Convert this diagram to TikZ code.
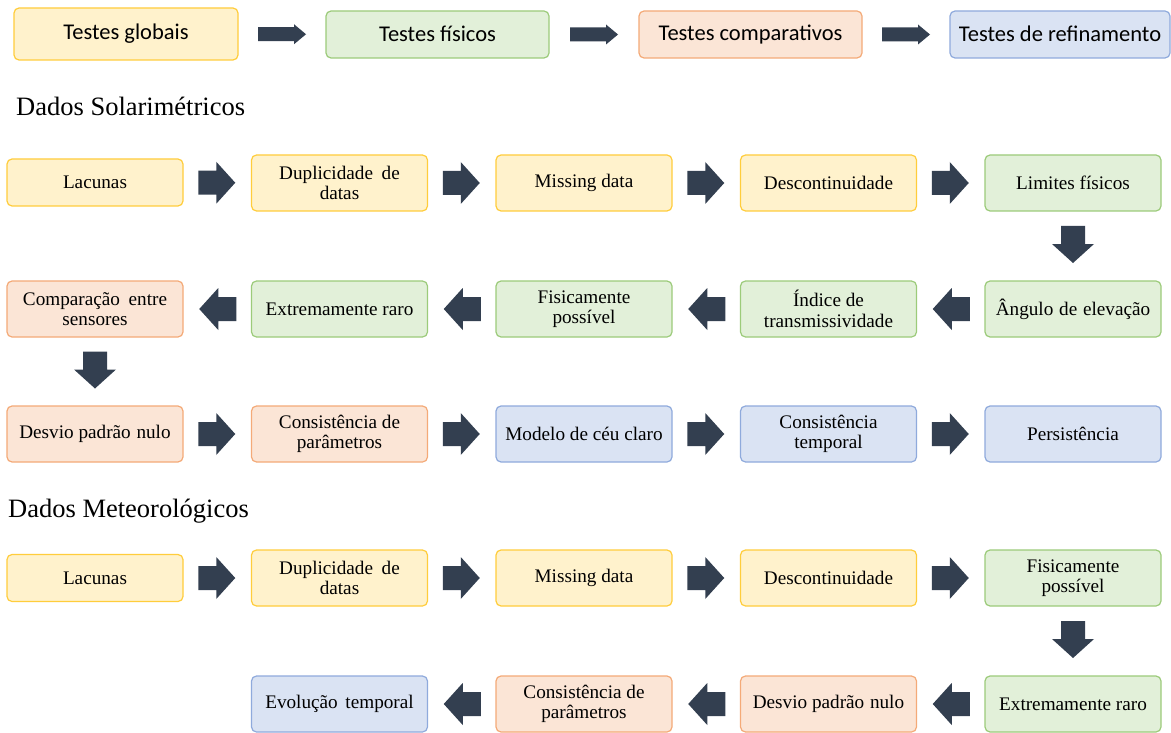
\documentclass[tikz,border=0pt]{standalone}
\usepackage{fontspec}
\setmainfont{Liberation Serif}
\newfontfamily\tnr{Liberation Serif}
\newfontfamily\calib{Carlito}
\usetikzlibrary{calc}
\definecolor{yfill}{HTML}{FFF2CC}
\definecolor{yline}{HTML}{FFCD3C}
\definecolor{gfill}{HTML}{E2F0D9}
\definecolor{gline}{HTML}{9CCB7A}
\definecolor{ofill}{HTML}{FBE5D6}
\definecolor{oline}{HTML}{F4AA78}
\definecolor{bfill}{HTML}{DAE3F3}
\definecolor{bline}{HTML}{8FAADC}
\definecolor{arrowc}{HTML}{333F50}
\newcommand\rarr[2]{%
  \coordinate (m) at ($(#1.east)!0.5!(#2.west)+(-1,0)$);
  \fill[arrowc] ($(m)+(-18,-12)$) -- ($(m)+(0,-12)$) -- ($(m)+(0,-21)$) -- ($(m)+(19,0)$)
    -- ($(m)+(0,21)$) -- ($(m)+(0,12)$) -- ($(m)+(-18,12)$) -- cycle;}
\newcommand\larr[2]{%
  \coordinate (m) at ($(#1.west)!0.5!(#2.east)+(1,0)$);
  \fill[arrowc] ($(m)+(18,-12)$) -- ($(m)+(0,-12)$) -- ($(m)+(0,-21)$) -- ($(m)+(-19,0)$)
    -- ($(m)+(0,21)$) -- ($(m)+(0,12)$) -- ($(m)+(18,12)$) -- cycle;}
\newcommand\darr[2]{%
  \coordinate (m) at ($(#1.south)!0.5!(#2.north)+(0,-2)$);
  \fill[arrowc] ($(m)+(-12,-18)$) -- ($(m)+(-12,0)$) -- ($(m)+(-21,0)$) -- ($(m)+(0,19)$)
    -- ($(m)+(21,0)$) -- ($(m)+(12,0)$) -- ($(m)+(12,-18)$) -- cycle;}
\newcommand\tarr[2]{%
  \coordinate (m) at ($(#1.east)!0.5!(#2.west)$);
  \fill[arrowc] ($(m)+(-24,-7)$) -- ($(m)+(12,-7)$) -- ($(m)+(12,-10)$) -- ($(m)+(24,0)$)
    -- ($(m)+(12,10)$) -- ($(m)+(12,7)$) -- ($(m)+(-24,7)$) -- cycle;}
\begin{document}
\begin{tikzpicture}[x=1pt,y=-1pt,
  box/.style={rounded corners=5pt, line width=1.2pt, minimum width=176pt, minimum height=56pt,
    inner sep=1pt, align=center, text=black, font=\tnr\fontsize{19.2}{20.5}\selectfont},
  yb/.style={box, fill=yfill, draw=yline},
  gb/.style={box, fill=gfill, draw=gline},
  ob/.style={box, fill=ofill, draw=oline},
  bb/.style={box, fill=bfill, draw=bline},
  tb/.style={rounded corners=5pt, line width=1.2pt, minimum width=223pt, minimum height=47pt,
    inner sep=1pt, align=center, text=black, font=\calib\fontsize{22.5}{24}\selectfont},
  head/.style={anchor=base west, inner sep=0pt, text=black, font=\tnr\fontsize{26.5}{28}\selectfont}
]
\useasboundingbox (0,0) rectangle (1171,733);
\fill[white] (0,0) rectangle (1171,733);

% top row
\node[tb, fill=yfill, draw=yline, minimum width=224pt, minimum height=52pt] (t1) at (126,34) {Testes globais};
\node[tb, fill=gfill, draw=gline] (t2) at (437.5,34.5) {\raisebox{1.5pt}{Testes físicos}};
\node[tb, fill=ofill, draw=oline] (t3) at (750.5,34.5) {\raisebox{1.5pt}{Testes comparativos}};
\node[tb, fill=bfill, draw=bline, minimum width=220pt] (t4) at (1060,34.5) {\raisebox{1.5pt}{Testes de refinamento}};
\tarr{t1}{t2}
\tarr{t2}{t3}
\tarr{t3}{t4}

% headings
\node[head] (h1) at (16,116) {Dados Solarimétricos};
\node[head] (h2) at (8,517) {Dados Meteorológicos};

% solar row 1
\node[yb, minimum height=47pt] (a1) at (95,182.5) {Lacunas};
\node[yb] (a2) at (339.5,183) {Duplicidade\hspace{0.45em}de\\datas};
\node[yb] (a3) at (584,183) {Missing data};
\node[yb] (a4) at (828.5,183) {Descontinuidade};
\node[gb] (a5) at (1073,183) {Limites físicos};
% solar row 2
\node[gb] (b5) at (1073,309) {Ângulo\hspace{0.3em}de\hspace{0.3em}elevação};
\node[gb] (b4) at (828.5,309) {Índice de\\transmissividade};
\node[gb] (b3) at (584,309) {Fisicamente\\possível};
\node[gb] (b2) at (339.5,309) {Extremamente raro};
\node[ob] (b1) at (95,309) {Comparação\hspace{0.45em}entre\\sensores};
% solar row 3
\node[ob] (c1) at (95,434) {Desvio padrão\hspace{0.3em}nulo};
\node[ob] (c2) at (339.5,434) {Consistência de\\parâmetros};
\node[bb] (c3) at (584,434) {Modelo de céu claro};
\node[bb] (c4) at (828.5,434) {Consistência\\temporal};
\node[bb] (c5) at (1073,434) {Persistência};

% meteo row 1
\node[yb, minimum height=47pt] (d1) at (95,578) {Lacunas};
\node[yb] (d2) at (339.5,578) {Duplicidade\hspace{0.45em}de\\datas};
\node[yb] (d3) at (584,578) {Missing data};
\node[yb] (d4) at (828.5,578) {Descontinuidade};
\node[gb] (d5) at (1073,578) {Fisicamente\\possível};
% meteo row 2
\node[gb] (e5) at (1073,704) {Extremamente raro};
\node[ob] (e4) at (828.5,704) {Desvio padrão\hspace{0.3em}nulo};
\node[ob] (e3) at (584,704) {Consistência de\\parâmetros};
\node[bb] (e2) at (339.5,704) {Evolução\hspace{0.4em}temporal};

% arrows
\rarr{a1}{a2} \rarr{a2}{a3} \rarr{a3}{a4} \rarr{a4}{a5}
\darr{a5}{b5}
\larr{b5}{b4} \larr{b4}{b3} \larr{b3}{b2} \larr{b2}{b1}
\darr{b1}{c1}
\rarr{c1}{c2} \rarr{c2}{c3} \rarr{c3}{c4} \rarr{c4}{c5}

\rarr{d1}{d2} \rarr{d2}{d3} \rarr{d3}{d4} \rarr{d4}{d5}
\darr{d5}{e5}
\larr{e5}{e4} \larr{e4}{e3} \larr{e3}{e2}
\end{tikzpicture}
\end{document}
